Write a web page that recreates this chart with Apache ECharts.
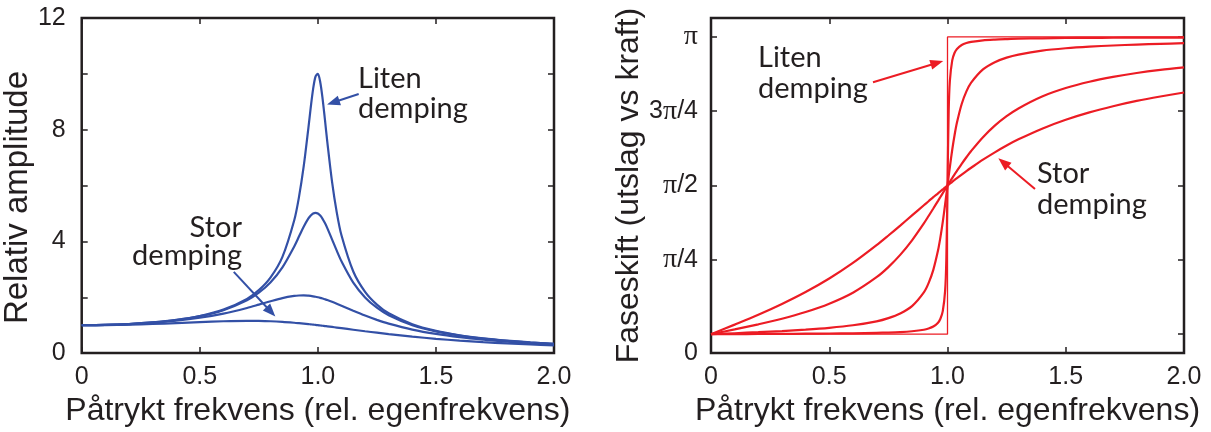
<!DOCTYPE html>
<html>
<head>
<meta charset="utf-8">
<script src="https://cdn.jsdelivr.net/npm/echarts@6/dist/echarts.min.js"></script>
<style>
  html, body { margin: 0; padding: 0; background: #ffffff; }
  #chart { width: 1211px; height: 432px; }
</style>
</head>
<body>
<div id="chart"></div>
<script>
// Driven damped oscillator: relative amplitude and phase lag versus drive frequency
// (drive frequency relative to the natural frequency).

// Left panel: relative amplitude for four damping levels
const freqAmp = [0, 0.1, 0.2, 0.3, 0.4, 0.5, 0.6, 0.7, 0.75, 0.8, 0.85, 0.9, 0.92, 0.94, 0.96, 0.97, 0.98, 0.99, 1.0,
  1.01, 1.02, 1.03, 1.04, 1.06, 1.08, 1.1, 1.15, 1.2, 1.25, 1.3, 1.4, 1.5, 1.6, 1.7, 1.8, 1.9, 2.0];
const ampVeryLight = [1, 1.010, 1.041, 1.098, 1.189, 1.330, 1.556, 1.943, 2.253, 2.712, 3.446, 4.757, 5.585, 6.684, 8.068, 8.804, 9.461, 9.903, 10.0,
  9.711, 9.115, 8.357, 7.565, 6.141, 5.041, 4.218, 2.921, 2.193, 1.736, 1.424, 1.031, 0.794, 0.638, 0.527, 0.445, 0.382, 0.333];
const ampLight = [1, 1.010, 1.041, 1.097, 1.185, 1.322, 1.536, 1.891, 2.162, 2.538, 3.073, 3.821, 4.172, 4.523, 4.822, 4.931, 5.001, 5.025, 5.0,
  4.926, 4.809, 4.655, 4.476, 4.075, 3.668, 3.288, 2.525, 1.995, 1.625, 1.356, 1.0, 0.778, 0.628, 0.521, 0.441, 0.379, 0.330];
const ampMedium = [1, 1.009, 1.036, 1.084, 1.158, 1.265, 1.415, 1.617, 1.736, 1.858, 1.970, 2.047, 2.062, 2.065, 2.056, 2.047, 2.034, 2.019, 2.0,
  1.979, 1.955, 1.928, 1.900, 1.838, 1.770, 1.699, 1.517, 1.344, 1.189, 1.055, 0.842, 0.686, 0.570, 0.483, 0.414, 0.360, 0.316];
const ampHeavy = [1, 1.005, 1.020, 1.044, 1.075, 1.109, 1.140, 1.155, 1.152, 1.140, 1.118, 1.087, 1.072, 1.056, 1.038, 1.029, 1.020, 1.010, 1.0,
  0.990, 0.980, 0.969, 0.959, 0.937, 0.915, 0.893, 0.837, 0.782, 0.730, 0.680, 0.589, 0.512, 0.448, 0.393, 0.348, 0.310, 0.277];

// Right panel: phase shift (radians) for undamped, very light, light, medium and heavy damping
const freqPhase = [0, 0.1, 0.2, 0.3, 0.4, 0.5, 0.6, 0.7, 0.75, 0.8, 0.85, 0.9, 0.92, 0.94, 0.96, 0.97, 0.98, 0.99, 0.995, 1.0,
  1.005, 1.01, 1.02, 1.03, 1.04, 1.06, 1.08, 1.1, 1.15, 1.2, 1.25, 1.3, 1.4, 1.5, 1.6, 1.7, 1.8, 1.9, 2.0];
const phaseMinimal = [0, 0.001, 0.002, 0.003, 0.005, 0.007, 0.009, 0.014, 0.017, 0.022, 0.031, 0.047, 0.060, 0.081, 0.122, 0.163, 0.243, 0.461, 0.784, 1.571,
  2.355, 2.676, 2.894, 2.974, 3.015, 3.056, 3.077, 3.089, 3.106, 3.114, 3.119, 3.123, 3.127, 3.130, 3.131, 3.133, 3.134, 3.134, 3.135];
const phaseLight = [0, 0.010, 0.021, 0.033, 0.048, 0.067, 0.094, 0.136, 0.170, 0.219, 0.297, 0.442, 0.540, 0.680, 0.886, 1.023, 1.187, 1.373, 1.471, 1.571,
  1.670, 1.767, 1.949, 2.105, 2.236, 2.433, 2.566, 2.659, 2.799, 2.875, 2.923, 2.955, 2.997, 3.022, 3.039, 3.051, 3.061, 3.069, 3.075];
const phaseMedium = [0, 0.050, 0.104, 0.163, 0.234, 0.322, 0.438, 0.602, 0.709, 0.838, 0.992, 1.171, 1.249, 1.328, 1.409, 1.450, 1.490, 1.531, 1.551, 1.571,
  1.591, 1.611, 1.650, 1.689, 1.726, 1.800, 1.870, 1.936, 2.082, 2.204, 2.304, 2.386, 2.512, 2.601, 2.668, 2.719, 2.760, 2.793, 2.820];
const phaseHeavy = [0, 0.101, 0.205, 0.319, 0.445, 0.588, 0.753, 0.941, 1.043, 1.148, 1.255, 1.363, 1.405, 1.448, 1.489, 1.510, 1.530, 1.551, 1.561, 1.571,
  1.581, 1.591, 1.610, 1.630, 1.649, 1.687, 1.724, 1.759, 1.844, 1.922, 1.994, 2.059, 2.172, 2.266, 2.344, 2.409, 2.465, 2.512, 2.554];
// Undamped case: a jump from 0 to pi at resonance
const stepFreq = [0, 1, 1, 2];
const stepPhase = [0, 0, 3.1416, 3.1416];

// Tick labels
const ampLabelValues = [0, 4, 8, 12];
const phaseTickValues = [0, Math.PI / 4, Math.PI / 2, 3 * Math.PI / 4, Math.PI];
const phaseLabels = ['0', 'π/4', 'π/2', '3π/4', 'π'];
const xTitle = 'Påtrykt frekvens (rel. egenfrekvens)';
const ampTitle = 'Relativ amplitude';
const phaseTitle = 'Faseskift (utslag vs kraft)';

const BLUE = '#3350a6';
const RED = '#ec1c24';
const INK = '#231f20';
const NUM_FONT = '"Liberation Sans", Arial, sans-serif';
const NOTE_FONT = 'Lato, "Open Sans", sans-serif';

const PHASE_MIN = -0.2;
const PHASE_MAX = Math.PI + 0.2;

const pairs = (xs, ys) => xs.map((x, i) => [x, ys[i]]);

const tick = { inside: true, length: 6, lineStyle: { color: INK, width: 1.5 } };
const hiddenLine = { show: false, onZero: false };
const numLabel = { fontSize: 25, fontFamily: NUM_FONT, color: INK };

function xAxes(gridIndex) {
  return [
    {
      gridIndex, type: 'value', min: 0, max: 2, interval: 0.5, position: 'bottom',
      axisLine: hiddenLine, splitLine: { show: false }, axisTick: tick,
      axisLabel: Object.assign({ margin: 12, formatter: v => (v === 0 ? '0' : v.toFixed(1)) }, numLabel),
      name: xTitle, nameLocation: 'middle', nameGap: 39,
      nameTextStyle: { fontSize: 32, fontFamily: NUM_FONT, color: INK }
    },
    {
      gridIndex, type: 'value', min: 0, max: 2, interval: 0.5, position: 'top',
      axisLine: hiddenLine, splitLine: { show: false }, axisTick: tick, axisLabel: { show: false }
    }
  ];
}

const phaseLabelValues = [PHASE_MIN].concat(phaseTickValues.slice(1));
function phaseFormatter(v) {
  let idx = 0, best = Infinity;
  phaseLabelValues.forEach((pv, i) => { const d = Math.abs(pv - v); if (d < best) { best = d; idx = i; } });
  return phaseLabels[idx].replace('π', '{p|π}');
}

const series = [];
function line(gridIndex, data, color, width, smooth) {
  series.push({
    type: 'line', xAxisIndex: gridIndex * 2, yAxisIndex: gridIndex * 2, data,
    showSymbol: false, symbol: 'none', silent: true, clip: true, smooth,
    lineStyle: { color, width }, emphasis: { disabled: true }
  });
}
line(0, pairs(freqAmp, ampHeavy), BLUE, 2.2, 0.3);
line(0, pairs(freqAmp, ampMedium), BLUE, 2.2, 0.3);
line(0, pairs(freqAmp, ampLight), BLUE, 2.2, 0.3);
line(0, pairs(freqAmp, ampVeryLight), BLUE, 2.2, 0.3);
line(1, pairs(stepFreq, stepPhase), RED, 1.3, false);
line(1, pairs(freqPhase, phaseMinimal), RED, 2.2, 0.3);
line(1, pairs(freqPhase, phaseLight), RED, 2.2, 0.3);
line(1, pairs(freqPhase, phaseMedium), RED, 2.2, 0.3);
line(1, pairs(freqPhase, phaseHeavy), RED, 2.2, 0.3);

const gridBox = { show: true, borderColor: INK, borderWidth: 2.5, backgroundColor: 'transparent', top: 18, width: 473, height: 337 };

const option = {
  animation: false,
  backgroundColor: '#ffffff',
  grid: [
    Object.assign({ left: 81 }, gridBox),
    Object.assign({ left: 711 }, gridBox)
  ],
  xAxis: xAxes(0).concat(xAxes(1)),
  yAxis: [
    {
      gridIndex: 0, type: 'value', min: 0, max: 12, interval: 2,
      axisLine: hiddenLine, splitLine: { show: false }, axisTick: tick,
      axisLabel: Object.assign({ margin: 16, formatter: v => (ampLabelValues.includes(v) ? String(v) : '') }, numLabel),
      name: ampTitle, nameLocation: 'middle', nameGap: 29, nameRotate: 90,
      nameTextStyle: { fontSize: 33, fontFamily: NUM_FONT, color: INK, padding: [0, 24, 0, 0] }
    },
    {
      gridIndex: 0, type: 'value', min: 0, max: 12, interval: 2, position: 'right',
      axisLine: hiddenLine, splitLine: { show: false }, axisTick: tick, axisLabel: { show: false }
    },
    {
      gridIndex: 1, type: 'value', min: PHASE_MIN, max: PHASE_MAX,
      axisLine: hiddenLine, splitLine: { show: false },
      axisTick: Object.assign({ customValues: phaseTickValues }, tick),
      axisLabel: Object.assign({
        margin: 13, customValues: phaseLabelValues, formatter: phaseFormatter,
        rich: { p: { fontSize: 28, fontFamily: '"Liberation Serif", "DejaVu Serif", serif', color: INK } }
      }, numLabel),
      name: phaseTitle, nameLocation: 'middle', nameGap: 55, nameRotate: 90,
      nameTextStyle: { fontSize: 32, fontFamily: NUM_FONT, color: INK }
    },
    {
      gridIndex: 1, type: 'value', min: PHASE_MIN, max: PHASE_MAX, position: 'right',
      axisLine: hiddenLine, splitLine: { show: false },
      axisTick: Object.assign({ customValues: phaseTickValues }, tick), axisLabel: { show: false }
    }
  ],
  series
};

const chart = echarts.init(document.getElementById('chart'), null, { renderer: 'canvas' });
chart.setOption(option);

// Callout texts and arrows
const notes = [
  { grid: 0, color: BLUE, text: ['Liten', 'demping'], x: 358, y: [79, 109], align: 'left', from: [1.173, 9.28], to: [1.039, 8.90] },
  { grid: 0, color: BLUE, text: ['Stor', 'demping'], x: 242, y: [228, 256], align: 'right', from: [0.644, 2.91], to: [0.820, 1.31] },
  { grid: 1, color: RED, text: ['Liten', 'demping'], x: 758, y: [58, 89], align: 'left', from: [0.685, 2.663], to: [0.982, 2.887] },
  { grid: 1, color: RED, text: ['Stor', 'demping'], x: 1037, y: [174, 205], align: 'left', from: [1.370, 1.535], to: [1.215, 1.859] }
];

const graphics = [];
notes.forEach(n => {
  n.text.forEach((t, i) => {
    graphics.push({
      type: 'text', silent: true,
      style: { text: t, x: n.x, y: n.y[i], fill: INK, font: '29px ' + NOTE_FONT, textAlign: n.align, textVerticalAlign: 'middle' }
    });
  });
  const a = chart.convertToPixel({ gridIndex: n.grid }, n.from);
  const b = chart.convertToPixel({ gridIndex: n.grid }, n.to);
  const dx = b[0] - a[0], dy = b[1] - a[1];
  const len = Math.hypot(dx, dy);
  const ux = dx / len, uy = dy / len;
  const head = 13, half = 5;
  const bx = b[0] - ux * head, by = b[1] - uy * head;
  graphics.push({
    type: 'line', silent: true,
    shape: { x1: a[0], y1: a[1], x2: b[0] - ux * (head - 2), y2: b[1] - uy * (head - 2) },
    style: { stroke: n.color, lineWidth: 2 }
  });
  graphics.push({
    type: 'polygon', silent: true,
    shape: { points: [[b[0], b[1]], [bx - uy * half, by + ux * half], [bx + uy * half, by - ux * half]] },
    style: { fill: n.color }
  });
});
chart.setOption({ graphic: graphics });
</script>
</body>
</html>
